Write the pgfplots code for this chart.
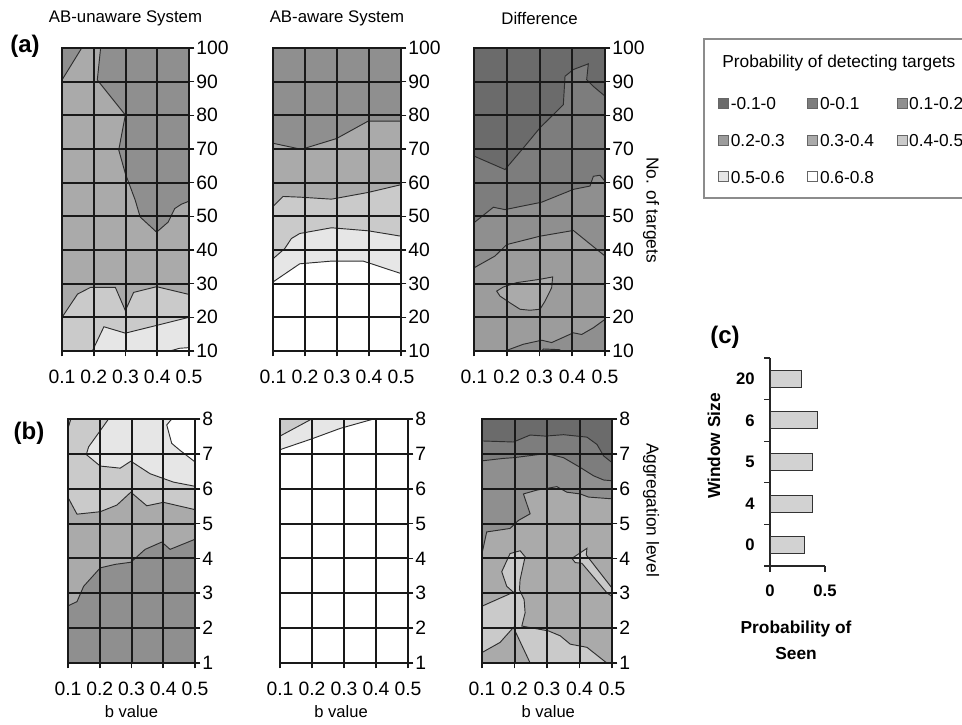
\documentclass[border=0pt]{standalone}
\usepackage{fontspec}
\setmainfont{Liberation Sans}
\usepackage{pgfplots}
\pgfplotsset{compat=1.18}
\definecolor{g0}{HTML}{6B6B6B}
\definecolor{g1}{HTML}{7D7D7D}
\definecolor{g2}{HTML}{8F8F8F}
\definecolor{g3}{HTML}{9C9C9C}
\definecolor{g4}{HTML}{AAAAAA}
\definecolor{g5}{HTML}{CACACA}
\definecolor{g6}{HTML}{E6E6E6}
\definecolor{g7}{HTML}{FFFFFF}
\definecolor{cl}{HTML}{2E2E2E}
\definecolor{gbar}{HTML}{D2D2D2}
\pgfplotsset{
  panel/.style={
    scale only axis, anchor=north west, axis on top,
    xmin=0.1, xmax=0.5,
    xtick={0.1,0.2,0.3,0.4,0.5}, xticklabels={0.1,0.2,0.3,0.4,0.5},
    grid=major, major grid style={draw=black!90, line width=1.5pt},
    axis line style={draw=black!90, line width=1.5pt},
    xtick pos=left, ytick pos=right, yticklabel pos=right,
    tick align=outside, major tick length=4pt,
    tick style={draw=black!90, line width=1.2pt},
    /pgf/number format/assume math mode=true,
    tick label style={font=\fontsize{14.5}{14.5}\selectfont},
    xticklabel style={yshift=-7pt},
    yticklabel style={xshift=-2pt},
    title style={at={(0.5,1)}, anchor=center, yshift=16.5pt, font=\fontsize{12.6}{12.6}\selectfont},
    xlabel style={font=\fontsize{12.4}{12.4}\selectfont},
    ylabel style={font=\fontsize{13}{13}\selectfont},
  },
  cont/.style={draw=cl, line width=0.7pt},
}
\begin{document}
\begin{tikzpicture}
\useasboundingbox (0,0) rectangle (721.5pt,-543pt);

% ---------------- (a) AB-unaware
\begin{axis}[panel, at={(46.5pt,-36pt)}, width=95.25pt, height=227.25pt,
  ymin=10, ymax=100, ytick={10,20,...,100},
  axis background/.style={fill=g4}, title={AB-unaware System}]
\addplot[cont,fill=g2] coordinates {(0.1,100) (0.162,100) (0.1,90.5)} --cycle;
\addplot[cont,fill=g2] coordinates {(0.2216,100) (0.2112,90.5) (0.2995,80.1) (0.2787,69.7) (0.2995,62.7) (0.3306,54.8) (0.3462,49.8) (0.398,45.3) (0.4345,48.3) (0.455,52.3) (0.476,53.6) (0.5,54.5) (0.5,100)} --cycle;
\addplot[cont,fill=g5] coordinates {(0.1,20) (0.149,26.9) (0.19,28.9) (0.268,28.9) (0.2995,22) (0.3255,27.4) (0.398,29.1) (0.5,26.8) (0.5,10) (0.1,10)} --cycle;
\addplot[cont,fill=g6] coordinates {(0.1956,10) (0.232,17.2) (0.2995,15.3) (0.398,17.6) (0.5,20) (0.5,10)} --cycle;
\addplot[cont,fill=white] coordinates {(0.44,10) (0.47,10.8) (0.5,11) (0.5,10)} --cycle;
\end{axis}

% ---------------- (a) AB-aware
\begin{axis}[panel, at={(204.75pt,-36pt)}, width=96pt, height=227.25pt,
  ymin=10, ymax=100, ytick={10,20,...,100},
  axis background/.style={fill=g4}, title={AB-aware System}]
\addplot[cont,fill=g2] coordinates {(0.1,71.7) (0.1888,69.9) (0.2984,73.1) (0.3977,78.3) (0.5,78.3) (0.5,100) (0.1,100)} --cycle;
\addplot[cont,fill=g5] coordinates {(0.1,52.9) (0.1313,55.9) (0.1836,55.7) (0.2828,55.1) (0.3977,57.1) (0.5,59.4) (0.5,10) (0.1,10)} --cycle;
\addplot[cont,fill=g6] coordinates {(0.1,37.4) (0.1366,40.4) (0.1574,43.4) (0.1836,44.9) (0.2828,46.6) (0.3977,45.7) (0.5,44.1) (0.5,10) (0.1,10)} --cycle;
\addplot[cont,fill=white] coordinates {(0.1,30.5) (0.1836,35.9) (0.2828,36.7) (0.382,36.7) (0.5,33) (0.5,10) (0.1,10)} --cycle;
\end{axis}

% ---------------- (a) Difference
\begin{axis}[panel, at={(355.5pt,-36pt)}, width=98.25pt, height=227.25pt,
  ymin=10, ymax=100, ytick={10,20,...,100},
  axis background/.style={fill=g3}, title={Difference},
  ylabel={No. of targets}, ylabel style={at={(axis description cs:1.351,0.465)}, rotate=180, anchor=center}]
\addplot[cont,fill=g2] coordinates {(0.1,34.7) (0.1641,38.2) (0.1997,41.6) (0.3015,44.1) (0.4033,45.8) (0.5,38.2) (0.5,100) (0.1,100)} --cycle;
\addplot[cont,fill=g1] coordinates {(0.1,48.1) (0.159,52.7) (0.1947,52.0) (0.3066,54.2) (0.4033,58) (0.4542,59) (0.4644,61.9) (0.4847,62.2) (0.5,60.4) (0.5,100) (0.1,100)} --cycle;
\addplot[cont,fill=g0] coordinates {(0.1,67.9) (0.1947,63.9) (0.2506,70.3) (0.3015,76.3) (0.3524,81.2) (0.3728,83.2) (0.3779,91.6) (0.4033,93.6) (0.4491,95.3) (0.444,90.6) (0.4644,88.6) (0.5,85.7) (0.5,100) (0.1,100)} --cycle;
\addplot[cont,fill=g4] coordinates {(0.1692,27.8) (0.1896,29) (0.2303,30.3) (0.3015,31.3) (0.3402,32) (0.3371,28.8) (0.3168,24.8) (0.3015,22.4) (0.271,22.1) (0.2405,22.4) (0.2099,24.3) (0.1794,26.3)} --cycle;
\addplot[cont,fill=g2] coordinates {(0.1947,10) (0.2506,12) (0.3066,13.2) (0.3371,12.5) (0.4033,15.4) (0.4287,14.9) (0.4644,16.9) (0.5,19.4) (0.5,10)} --cycle;
\addplot[cont,fill=g1] coordinates {(0.3066,10) (0.312,10.6) (0.36,10.4) (0.368,10)} --cycle;
\end{axis}

% ---------------- (b) AB-unaware
\begin{axis}[panel, at={(51pt,-314.25pt)}, width=95.25pt, height=183pt,
  ymin=1, ymax=8, ytick={1,...,8},
  axis background/.style={fill=g2},
  xlabel={b value}, xlabel style={at={(axis description cs:0.5,-0.2)}, anchor=center}]
\addplot[cont,fill=g4] coordinates {(0.1,2.64) (0.1283,2.76) (0.1492,3.2) (0.2016,3.73) (0.2487,3.83) (0.2979,3.89) (0.3429,4.26) (0.3953,4.47) (0.4215,4.26) (0.5,4.55) (0.5,8) (0.1,8)} --cycle;
\addplot[cont,fill=g5] coordinates {(0.1,5.75) (0.1283,5.27) (0.2016,5.34) (0.2539,5.53) (0.2979,5.9) (0.3482,5.51) (0.4005,5.61) (0.5,5.40) (0.5,8) (0.1,8)} --cycle;
\addplot[cont,fill=g6] coordinates {(0.2277,8) (0.1649,7.2) (0.1576,6.98) (0.2016,6.65) (0.2644,6.59) (0.2979,6.79) (0.3586,6.43) (0.4319,6.19) (0.5,6.07) (0.5,8)} --cycle;
\addplot[cont,fill=white] coordinates {(0.4267,8) (0.411,7.83) (0.4267,7.3) (0.4529,7.1) (0.5,6.77) (0.5,8)} --cycle;
\addplot[cont,fill=g4] coordinates {(0.1,8) (0.109,8) (0.1,7.73)} --cycle;
\end{axis}

% ---------------- (b) AB-aware
\begin{axis}[panel, at={(210pt,-314.25pt)}, width=96pt, height=183pt,
  ymin=1, ymax=8, ytick={1,...,8},
  axis background/.style={fill=white},
  xlabel={b value}, xlabel style={at={(axis description cs:0.477,-0.2)}, anchor=center}]
\addplot[cont,fill=g6] coordinates {(0.1,7.12) (0.1992,7.43) (0.288,7.73) (0.3924,8) (0.1,8)} --cycle;
\addplot[cont,fill=g5] coordinates {(0.1,8) (0.1992,8) (0.1,7.51)} --cycle;
\end{axis}

% ---------------- (b) Difference
\begin{axis}[panel, at={(361.5pt,-314.25pt)}, width=97.5pt, height=183pt,
  ymin=1, ymax=8, ytick={1,...,8},
  axis background/.style={fill=g4},
  xlabel={b value}, xlabel style={at={(axis description cs:0.51,-0.2)}, anchor=center},
  ylabel={Aggregation level}, ylabel style={at={(axis description cs:1.3,0.627)}, rotate=180, anchor=center}]
\addplot[cont,fill=g2] coordinates {(0.1,4.14) (0.1144,4.76) (0.1864,4.86) (0.2121,5.09) (0.2481,5.28) (0.2275,5.85) (0.2686,5.96) (0.3303,6.06) (0.3612,5.90) (0.4023,5.85) (0.428,5.76) (0.5,5.71) (0.5,8) (0.1,8)} --cycle;
\addplot[cont,fill=g1] coordinates {(0.1,6.80) (0.1658,6.87) (0.1967,6.89) (0.2995,7.01) (0.3509,6.89) (0.4023,6.61) (0.4434,6.37) (0.4743,6.25) (0.5,6.23) (0.5,8) (0.1,8)} --cycle;
\addplot[cont,fill=g0] coordinates {(0.1,7.37) (0.1658,7.35) (0.1967,7.34) (0.2481,7.54) (0.2943,7.51) (0.3509,7.55) (0.4229,7.48) (0.4537,7.27) (0.4743,6.94) (0.5,6.75) (0.5,8) (0.1,8)} --cycle;
\addplot[cont,fill=g5] coordinates {(0.1,2.63) (0.1967,3.03) (0.1761,3.20) (0.1607,3.62) (0.1864,4.14) (0.2172,4.22) (0.2326,4.05) (0.2172,3.39) (0.2152,3.10) (0.2296,2.82) (0.2326,2.44) (0.2224,2.06) (0.3046,1.92) (0.3406,1.78) (0.3715,1.54) (0.4229,1.45) (0.4743,1.07) (0.4846,1.0) (0.2481,1.0) (0.1967,2.02) (0.1555,1.59) (0.1,1.30)} --cycle;
\addplot[cont,fill=g5] coordinates {(0.3766,4.0) (0.4229,4.29) (0.4208,4.1) (0.5,3.15) (0.5,2.91) (0.4846,3.01) (0.4074,3.86) (0.3869,3.88)} --cycle;
\end{axis}

% ---------------- (c) bar chart
\begin{axis}[at={(577.5pt,-268.5pt)}, anchor=north west, scale only axis,
  width=41.25pt, height=156pt,
  xmin=0, xmax=0.5, ymin=-0.5, ymax=4.5,
  axis x line*=bottom, axis y line*=left,
  axis line style={black!85, line width=0.9pt},
  xtick={0,0.5}, xticklabels={0,0.5},
  ytick={-0.5,0.5,1.5,2.5,3.5,4.5}, yticklabels={},
  extra y ticks={0,1,2,3,4}, extra y tick labels={0,4,5,6,20},
  extra y tick style={major tick length=0pt},
  tick align=outside, major tick length=4.5pt,
  tick style={black!85, line width=0.9pt},
  tick label style={font=\bfseries\fontsize{12.5}{12.5}\selectfont},
  xticklabel style={yshift=-6pt},
  yticklabel style={xshift=-8pt},
  xlabel={Probability of\\Seen},
  xlabel style={at={(axis description cs:0.473,-0.356)}, anchor=center, align=center, font=\bfseries\fontsize{13}{19.5}\selectfont},
  ylabel={Window Size},
  ylabel style={at={(axis description cs:-1.018,0.577)}, anchor=center, font=\bfseries\fontsize{13}{13}\selectfont},
]
\addplot[xbar, bar width=12.75pt, fill=gbar, draw=black!80, line width=0.8pt] coordinates {(0.31,0) (0.39,1) (0.39,2) (0.43,3) (0.29,4)};
\end{axis}

% ---------------- legend
\draw[gray!90, line width=1.3pt] (725pt,-29.25pt) -- (528pt,-29.25pt) -- (528pt,-148.5pt) -- (725pt,-148.5pt);
\node[anchor=west, font=\fontsize{13}{13}\selectfont, inner sep=0pt] at (541.5pt,-47.25pt) {Probability of detecting targets};
\begin{axis}[at={(538.5pt,-70.25pt)}, anchor=north west, scale only axis,
  width=180pt, height=80pt, hide axis, xmin=0, xmax=1, ymin=0, ymax=1,
  legend columns=3,
  legend style={at={(0,1)}, anchor=north west, draw=none, fill=none, inner sep=0pt,
    font=\fontsize{13}{13}\selectfont, row sep=13.5pt,
    nodes={inner xsep=1.5pt, inner ysep=2pt, text height=10pt, text depth=0pt},
    /tikz/every even column/.append style={text width=56pt}},
  legend cell align=left,
  legend image code/.code={\draw[#1] (0pt,-3.75pt) rectangle (7.5pt,3.75pt);},
]
\addlegendimage{fill=g0, draw=black!60}\addlegendentry{-0.1-0}
\addlegendimage{fill=g1, draw=black!60}\addlegendentry{0-0.1}
\addlegendimage{fill=g2, draw=black!60}\addlegendentry{0.1-0.2}
\addlegendimage{fill=g3, draw=black!60}\addlegendentry{0.2-0.3}
\addlegendimage{fill=g4, draw=black!60}\addlegendentry{0.3-0.4}
\addlegendimage{fill=g5, draw=black!60}\addlegendentry{0.4-0.5}
\addlegendimage{fill=g6, draw=black!60}\addlegendentry{0.5-0.6}
\addlegendimage{fill=g7, draw=black!60}\addlegendentry{0.6-0.8}
\end{axis}

% ---------------- panel letters
\node[font=\bfseries\fontsize{18}{18}\selectfont] at (18.75pt,-34.5pt) {(a)};
\node[font=\bfseries\fontsize{18}{18}\selectfont] at (21.75pt,-324.75pt) {(b)};
\node[font=\bfseries\fontsize{18}{18}\selectfont] at (543.75pt,-252.75pt) {(c)};
\end{tikzpicture}
\end{document}
